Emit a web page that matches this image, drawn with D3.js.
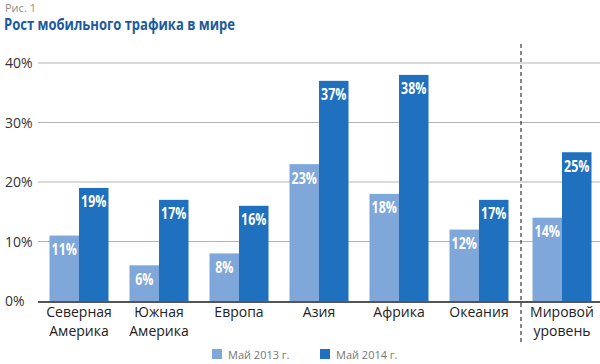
<!DOCTYPE html>
<html><head><meta charset="utf-8">
<script src="https://cdn.jsdelivr.net/npm/d3@7"></script>
<style>body{margin:0;background:#fff}svg{display:block}</style>
</head><body>
<script>
const categories = [["Северная","Америка"],["Южная","Америка"],["Европа"],["Азия"],["Африка"],["Океания"],["Мировой","уровень"]];
const may2013 = [11, 6, 8, 23, 18, 12, 14];
const may2014 = [19, 17, 16, 37, 38, 17, 25];
const seriesNames = ["Май 2013 г.", "Май 2014 г."];
const yTicks = [0, 10, 20, 30, 40];

const W = 600, H = 364;
const colors = ["#7fa7da", "#1f70bf"];
const svg = d3.select("body").append("svg").attr("width", W).attr("height", H);

svg.append("text").attr("x", 5).attr("y", 12).attr("fill", "#8a8a8a")
  .attr("font-family", "Open Sans, sans-serif").attr("font-size", 11).text("Рис. 1");
svg.append("text").attr("transform", "translate(4,30) scale(0.84,1)").attr("fill", "#1b5aa0")
  .attr("font-family", "Open Sans, sans-serif").attr("font-weight", "bold").attr("font-size", 15.5).text("Рост мобильного трафика в мире");

const y = d3.scaleLinear().domain([0, 40]).range([301, 63]);
const x = d3.scaleBand().domain(d3.range(categories.length)).range([39, 599]).paddingInner(0.26).paddingOuter(0.13);
const cx = i => x(i) + x.bandwidth() / 2 + (i === 6 ? 3 : 0);
const bw = 29.5;

// grid
svg.append("g").selectAll("line").data(yTicks.filter(t => t > 0)).join("line")
  .attr("x1", 38).attr("x2", 600).attr("y1", d => y(d)).attr("y2", d => y(d))
  .attr("stroke", "#b5b5b5").attr("stroke-width", 1);
svg.append("g").selectAll("text").data(yTicks).join("text")
  .attr("x", 5).attr("y", d => y(d) + 5).attr("fill", "#333")
  .attr("font-family", "Open Sans, sans-serif").attr("font-size", 14).text(d => d + "%");

const data = categories.map((c, i) => ({i, vals: [may2013[i], may2014[i]]}));
const g = svg.append("g").selectAll("g").data(data).join("g");
g.selectAll("rect").data(d => d.vals.map((v, k) => ({i: d.i, v, k}))).join("rect")
  .attr("x", d => cx(d.i) - bw + d.k * bw).attr("width", bw)
  .attr("y", d => y(d.v)).attr("height", d => y(0) - y(d.v)).attr("fill", d => colors[d.k]);
g.selectAll("text").data(d => d.vals.map((v, k) => ({i: d.i, v, k}))).join("text")
  .attr("transform", d => `translate(${cx(d.i) - bw / 2 + d.k * bw},${y(d.v) + 19.5}) scale(0.8,1)`)
  .attr("text-anchor", "middle").attr("fill", "#fff").attr("font-weight", "bold")
  .attr("font-family", "Open Sans, sans-serif").attr("font-size", 15.5)
  .text(d => d.v + "%");

// baseline
svg.append("line").attr("x1", 38).attr("x2", 600).attr("y1", y(0) + 1).attr("y2", y(0) + 1)
  .attr("stroke", "#555").attr("stroke-width", 2);

// category labels
const lbl = svg.append("g").selectAll("text").data(categories).join("text")
  .attr("text-anchor", "middle").attr("fill", "#222")
  .attr("font-family", "Open Sans, sans-serif").attr("font-size", 14)
  .attr("transform", (d, i) => `translate(${cx(i)},317)`);
lbl.selectAll("tspan").data(d => d).join("tspan").attr("x", 0).attr("dy", (d, k) => k ? 19 : 0).text(d => d);

// dashed separator
svg.append("line").attr("x1", 521).attr("x2", 521).attr("y1", 44).attr("y2", 342)
  .attr("stroke", "#111").attr("stroke-width", 1).attr("stroke-dasharray", "4,3");

// legend
const leg = svg.append("g").selectAll("g").data(seriesNames).join("g")
  .attr("transform", (d, i) => `translate(${212 + i * 108},349)`);
leg.append("rect").attr("width", 10).attr("height", 10).attr("fill", (d, i) => colors[i]);
leg.append("text").attr("x", 16).attr("y", 9.5).attr("fill", "#777")
  .attr("font-family", "Open Sans, sans-serif").attr("font-size", 11).text(d => d);
</script>
</body></html>
